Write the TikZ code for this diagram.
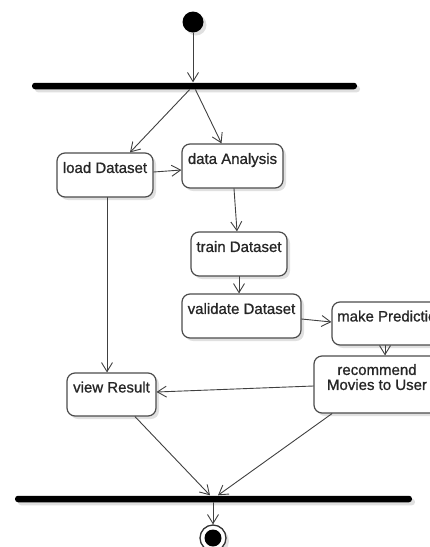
\documentclass[tikz,border=0pt]{standalone}
\usepackage{fontspec}
\setmainfont{Liberation Sans}
\newfontfamily\actfont[FakeBold=0.9]{Liberation Sans}
\usetikzlibrary{arrows.meta,shadows}
\begin{document}
\begin{tikzpicture}[x=1pt,y=-1pt,line width=.9pt,>={Straight Barb[length=9pt,width=11pt]},
 line cap=round,line join=round,font=\actfont\fontsize{15}{15}\selectfont,
 shade/.style={drop shadow={fill=black!12,opacity=1,shadow xshift=3pt,shadow yshift=-3pt}},
 act/.style={draw=black!70,line width=1.2pt,rounded corners=8pt,fill=white,shade,
  align=center,inner xsep=3pt,inner ysep=0pt,minimum height=44pt,text=black!85},
 bar/.style={fill=black,rounded corners=3pt,minimum height=6.5pt,inner sep=0pt,shade},
 flow/.style={->,draw=black!75}]
 \path[use as bounding box,clip] (0,0) rectangle (430,547);
 \node[circle,fill=black,minimum size=21pt,inner sep=0pt,shade] (start) at (193,22) {};
 \node[bar,minimum width=325pt] (fork) at (194.5,86) {};
 \node[act,minimum width=96pt] (load) at (105,175) {load Dataset\\~};
 \node[act,minimum width=101pt] (analysis) at (232.5,166) {data Analysis\\~};
 \node[act,minimum width=96pt] (train) at (239,254) {train Dataset\\~};
 \node[act,minimum width=119pt] (validate) at (241.5,316) {validate Dataset\\~};
 \node[act,minimum width=118pt,minimum height=43pt] (predict) at (391,323.5) {make Prediction\\~};
 \node[act,minimum width=126pt,minimum height=57pt] (recommend) at (377,384.5)
  {recommend\\Movies to User\\~};
 \node[act,minimum width=89pt,minimum height=43pt] (view) at (111.5,394.5) {view Result\\~};
 \node[bar,minimum width=397pt] (join) at (213.5,499) {};
 \node[circle,draw=black!80,line width=1.3pt,fill=white,minimum size=26pt,inner sep=0pt,shade]
  (final) at (213,538) {};
 \fill (final) circle[radius=8.5pt];

 \draw[flow] (start) -- (start |- fork.north);
 \draw[flow] ([xshift=-5pt]fork.south) -- ([xshift=25pt]load.north);
 \draw[flow] ([xshift=1pt]fork.south) -- ([xshift=-11pt]analysis.north);
 \draw[flow] ([yshift=3pt]load.east) -- ([yshift=-4pt]analysis.west);
 \draw[flow] ([xshift=1.5pt]analysis.south) -- ([xshift=-2pt]train.north);
 \draw[flow] (train.south) -- (train.south |- validate.north);
 \draw[flow] ([yshift=-3pt]validate.east) -- ([yshift=1.5pt]predict.west);
 \draw[flow] ([xshift=-6pt]predict.south) -- ([xshift=-6pt]predict.south |- recommend.north);
 \draw[flow] ([yshift=-1.5pt]recommend.west) -- ([yshift=2.5pt]view.east);
 \draw[flow] ([xshift=2pt]load.south) -- ([xshift=2pt]load.south |- view.north);
 \draw[flow] ([xshift=23.5pt]view.south) -- ([xshift=-3.5pt]join.north);
 \draw[flow] ([xshift=-45pt]recommend.south) -- ([xshift=4.5pt]join.north);
 \draw[flow] (final |- join.south) -- (final);
\end{tikzpicture}
\end{document}
